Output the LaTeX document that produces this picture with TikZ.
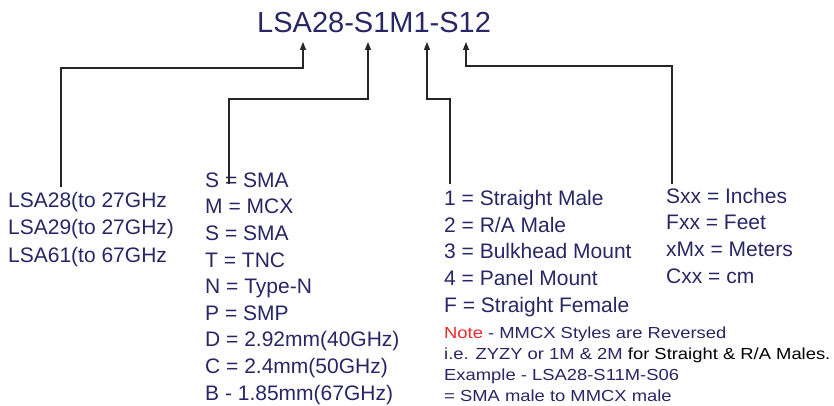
\documentclass[tikz,border=0pt]{standalone}
\usepackage{fontspec}
\setmainfont{Liberation Sans}
\newfontfamily\widesans[FakeStretch=1.15]{Liberation Sans}
\usetikzlibrary{arrows.meta}

\definecolor{navy}{RGB}{40,38,100}
\definecolor{notered}{RGB}{240,40,40}

\begin{document}
\begin{tikzpicture}[
    x=1pt, y=-1pt,
    codetext/.style={text=navy, font=\fontsize{29}{31}\selectfont, inner sep=0pt},
    listtext/.style={text=navy, align=left, anchor=base west, inner sep=0pt, font=\fontsize{21}{26.6}\selectfont},
    notetext/.style={text=navy, align=left, anchor=base west, inner sep=0pt, font=\widesans\fontsize{16}{21}\selectfont},
    conn/.style={-{Triangle[width=6pt,length=8pt]}, line width=1.3pt, draw=black!85}
]
\useasboundingbox (0,0) rectangle (834,406);

% Part number
\node[codetext, anchor=base west] (code) at (257,33) {LSA28-S1M1-S12};

% Key columns (anchored at the baseline of the last line)
\node[listtext, font=\fontsize{21}{27.4}\selectfont] (series) at (8,262) {LSA28(to 27GHz\\LSA29(to 27GHz)\\LSA61(to 67GHz};
\node[listtext] (conn) at (205,400) {S = SMA\\M = MCX\\S = SMA\\T = TNC\\N = Type-N\\P = SMP\\D = 2.92mm(40GHz)\\C = 2.4mm(50GHz)\\B - 1.85mm(67GHz)};
\node[listtext] (style) at (444,312) {1 = Straight Male\\2 = R/A Male\\3 = Bulkhead Mount\\4 = Panel Mount\\F = Straight Female};
\node[listtext] (length) at (666,283) {Sxx = Inches\\Fxx = Feet\\xMx = Meters\\Cxx = cm};
\node[notetext] (note) at (444,401) {\textcolor{notered}{Note} - MMCX Styles are Reversed\\i.e. ZYZY or 1M \& 2M \textcolor{black}{for Straight \& R/A Males.}\\Example - LSA28-S11M-S06\\= SMA male to MMCX male};

% Arrow points
\coordinate (t1) at (303,42);
\coordinate (t2) at (368,42);
\coordinate (t3) at (427,42);
\coordinate (t4) at (466,42);
\coordinate (b1) at (61,187);
\coordinate (b2) at (229,184);
\coordinate (b3) at (450,184);
\coordinate (b4) at (672,184);

% Connectors
\draw[conn] (b1) |- (303,68) -- (t1);
\draw[conn] (b2) |- (368,99) -- (t2);
\draw[conn] (b3) |- (427,99) -- (t3);
\draw[conn] (b4) |- (466,66) -- (t4);

\end{tikzpicture}
\end{document}
